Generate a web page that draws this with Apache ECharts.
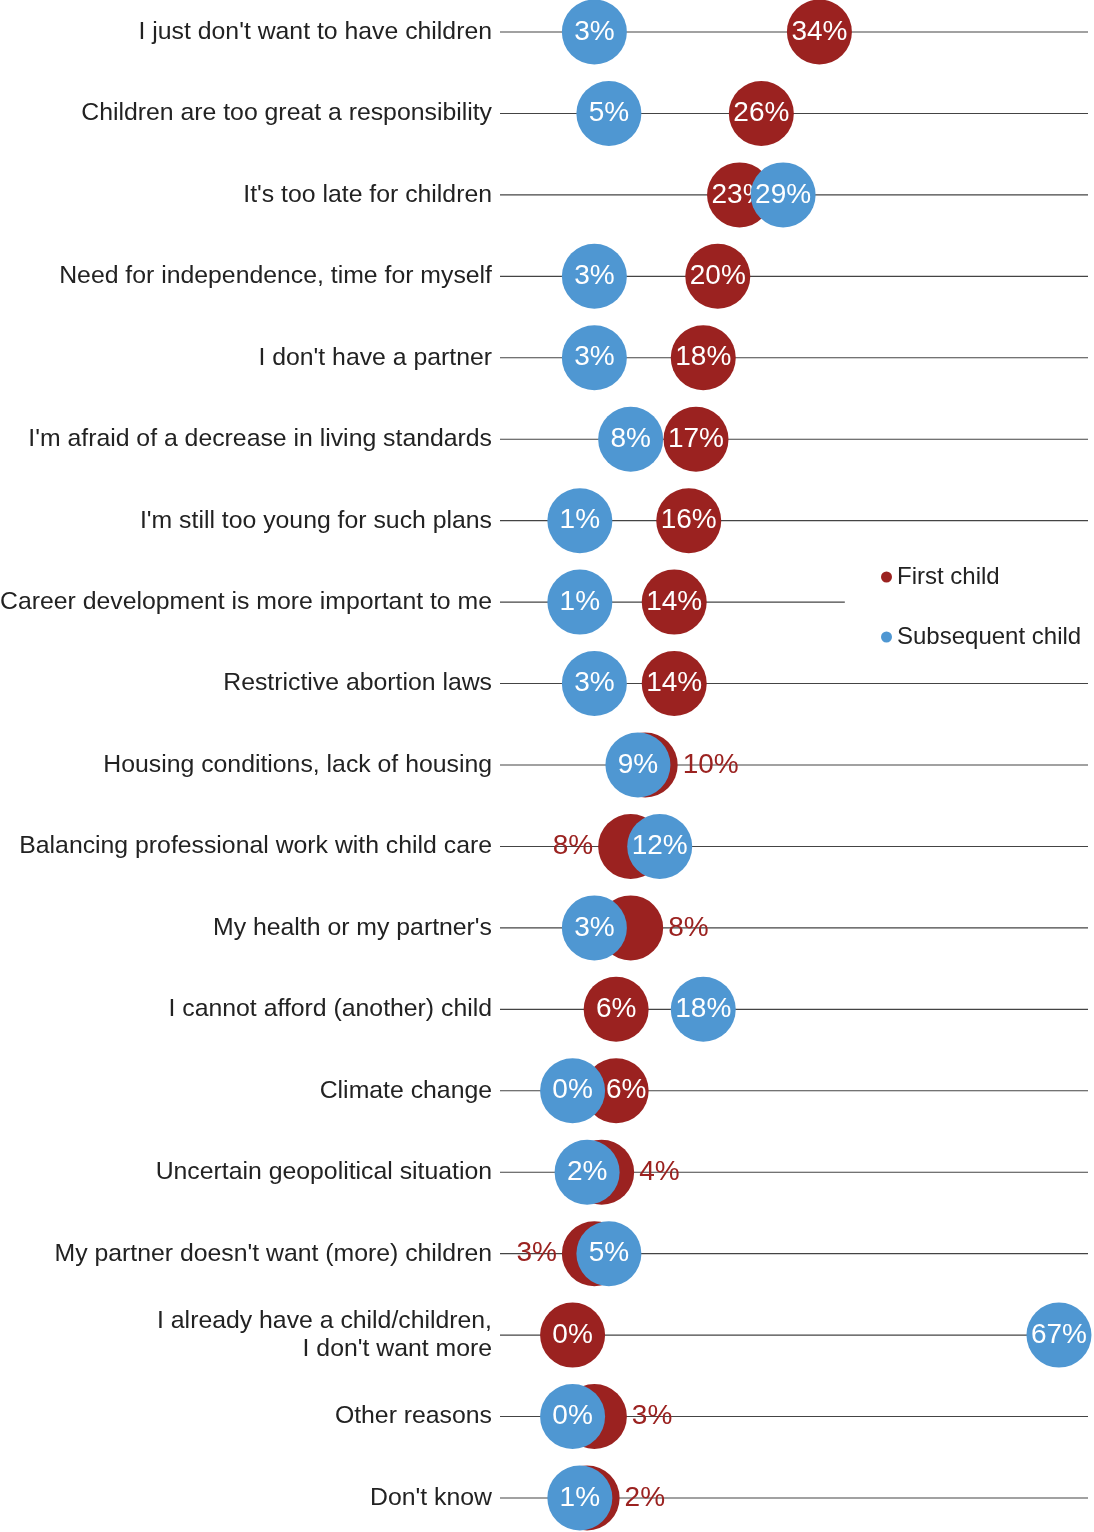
<!DOCTYPE html>
<html>
<head>
<meta charset="utf-8">
<script src="https://cdn.jsdelivr.net/npm/echarts@6/dist/echarts.min.js"></script>
<style>
  html, body { margin: 0; padding: 0; background: #fff; }
  #chart { width: 1094px; height: 1532px; }
</style>
</head>
<body>
<div id="chart"></div>
<script>
const categories = [
  "I just don't want to have children",
  'Children are too great a responsibility',
  "It's too late for children",
  'Need for independence, time for myself',
  "I don't have a partner",
  "I'm afraid of a decrease in living standards",
  "I'm still too young for such plans",
  'Career development is more important to me',
  'Restrictive abortion laws',
  'Housing conditions, lack of housing',
  'Balancing professional work with child care',
  "My health or my partner's",
  'I cannot afford (another) child',
  'Climate change',
  'Uncertain geopolitical situation',
  "My partner doesn't want (more) children",
  "I already have a child/children,\nI don't want more",
  'Other reasons',
  "Don't know"
];
const firstChild = [34, 26, 23, 20, 18, 17, 16, 14, 14, 10, 8, 8, 6, 6, 4, 3, 0, 3, 2];
const subsequentChild = [3, 5, 29, 3, 3, 8, 1, 1, 3, 9, 12, 3, 18, 0, 2, 5, 67, 0, 1];

const RED = '#9b2220', BLUE = '#4f97d2';
const FONT = "'Liberation Sans', Arial, Helvetica, sans-serif";
const X_MIN = -10, X_MAX = 71;
// the row under the legend has a shorter rule
const legendRow = 7, legendRowEnd = 37.5;

let chart = echarts.init(document.getElementById('chart'));

// red label goes outside when the blue circle covers it,
// and is nudged right when blue only clips its left side
let redData = firstChild.map(function (v, i) {
  let b = subsequentChild[i];
  let item = { value: [v, categories[i]] };
  let diff = Math.abs(v - b);
  if (diff < 6) {
    item.label = { position: v >= b ? 'right' : 'left', color: RED, distance: 5 };
  } else if (v > b && diff < 9) {
    item.label = { offset: [10, 0] };
  }
  return item;
});
let blueData = subsequentChild.map(function (v, i) {
  return [v, categories[i]];
});
let ruleData = categories.map(function (c, i) {
  return [i === legendRow ? legendRowEnd : X_MAX, c];
});

let circleLabel = {
  show: true,
  position: 'inside',
  color: '#fff',
  fontSize: 28,
  fontFamily: FONT,
  formatter: function (p) { return p.value[0] + '%'; }
};

let option = {
  animation: false,
  backgroundColor: '#fff',
  grid: { left: 500, right: 6, top: 32, bottom: 34, containLabel: false, outerBoundsMode: 'none' },
  legend: {
    orient: 'vertical',
    left: 876,
    top: 560,
    icon: 'circle',
    itemWidth: 11,
    itemHeight: 11,
    itemGap: 36,
    textStyle: { fontSize: 24, color: '#222', fontFamily: FONT },
    data: ['First child', 'Subsequent child']
  },
  xAxis: {
    type: 'value',
    min: X_MIN,
    max: X_MAX,
    show: false,
    splitLine: { show: false }
  },
  yAxis: {
    type: 'category',
    data: categories,
    inverse: true,
    boundaryGap: false,
    axisLine: { show: false },
    axisTick: { show: false },
    splitLine: { show: false },
    axisLabel: {
      margin: 8,
      fontSize: 24.8,
      lineHeight: 28,
      color: '#222',
      fontFamily: FONT,
      align: 'right'
    }
  },
  series: [
    {
      name: 'rules',
      type: 'custom',
      z: 1,
      silent: true,
      data: ruleData,
      encode: { x: 0, y: 1 },
      renderItem: function (params, api) {
        let y = api.value(1);
        let a = api.coord([X_MIN, y]);
        let b = api.coord([api.value(0), y]);
        return {
          type: 'line',
          shape: { x1: a[0], y1: a[1], x2: b[0], y2: b[1] },
          style: { stroke: '#444', lineWidth: 1.1 }
        };
      }
    },
    {
      name: 'First child',
      type: 'scatter',
      z: 2,
      symbolSize: 65,
      itemStyle: { color: RED, opacity: 1 },
      label: circleLabel,
      emphasis: { disabled: true },
      data: redData
    },
    {
      name: 'Subsequent child',
      type: 'scatter',
      z: 3,
      symbolSize: 65,
      itemStyle: { color: BLUE, opacity: 1 },
      label: circleLabel,
      emphasis: { disabled: true },
      data: blueData
    }
  ]
};

chart.setOption(option);
</script>
</body>
</html>
